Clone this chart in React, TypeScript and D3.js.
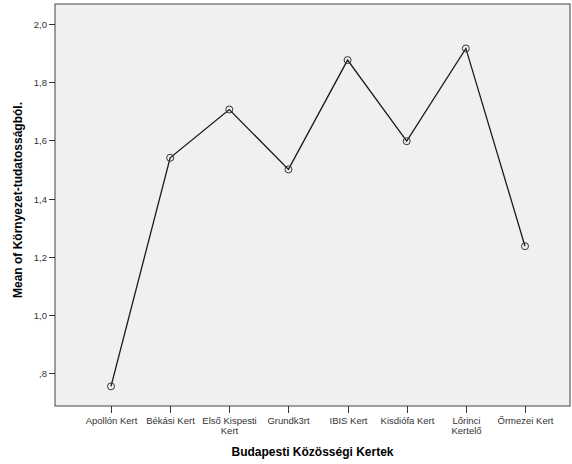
import React from "react";
import * as d3 from "d3";

const categories: string[][] = [
  ["Apollón Kert"],
  ["Békási Kert"],
  ["Első Kispesti", "Kert"],
  ["Grundk3rt"],
  ["IBIS Kert"],
  ["Kisdiófa Kert"],
  ["Lőrinci", "Kertelő"],
  ["Őrmezei Kert"],
];
const means: number[] = [0.754, 1.54, 1.706, 1.5, 1.876, 1.597, 1.916, 1.236];
const yTicks: number[] = [0.8, 1.0, 1.2, 1.4, 1.6, 1.8, 2.0];
const xTitle = "Budapesti Közösségi Kertek";
const yTitle = "Mean of Környezet-tudatosságból.";

const W = 572;
const H = 464;
const plot = { left: 55, top: 4, right: 570, bottom: 406 };

export default function App() {
  const keys = categories.map((c) => c.join(" "));
  const x = d3.scalePoint<string>().domain(keys).range([111, 525]);
  const y = d3.scaleLinear().domain([0.6865, 2.0688]).range([plot.bottom, plot.top]);
  const fmt = (v: number) => d3.format(".1f")(v).replace(".", ",").replace(/^0/, "");
  const line = d3
    .line<number>()
    .x((_, i) => x(keys[i]) as number)
    .y((d) => y(d));
  const font = "'Liberation Sans', Arial, sans-serif";
  return (
    <div style={{ position: "absolute", left: 0, top: 0 }}>
      <svg width={W} height={H} style={{ display: "block", fontFamily: font }}>
        <rect x={0} y={0} width={W} height={H} fill="#ffffff" />
        <rect
          x={plot.left}
          y={plot.top}
          width={plot.right - plot.left}
          height={plot.bottom - plot.top}
          fill="#f0f0f0"
          stroke="#444"
          strokeWidth={1}
        />
        {yTicks.map((t) => (
          <g key={t} transform={`translate(0,${Math.round(y(t)) + 0.5})`}>
            <line x1={plot.left - 6} x2={plot.left} stroke="#333" />
            <text x={plot.left - 8} dy="0.33em" textAnchor="end" fontSize={9.5} fill="#333">
              {fmt(t)}
            </text>
          </g>
        ))}
        {categories.map((c, i) => {
          const cx = Math.round(x(keys[i]) as number) + 0.5;
          return (
            <g key={keys[i]} transform={`translate(${cx},0)`}>
              <line y1={plot.bottom} y2={plot.bottom + 7} stroke="#333" />
              {c.map((s, j) => (
                <text key={j} y={plot.bottom + 18 + j * 9.5} textAnchor="middle" fontSize={9.5} fill="#333">
                  {s}
                </text>
              ))}
            </g>
          );
        })}
        <path d={line(means) || ""} fill="none" stroke="#1a1a1a" strokeWidth={1.3} />
        {means.map((m, i) => (
          <circle
            key={i}
            cx={x(keys[i]) as number}
            cy={y(m)}
            r={3.5}
            fill="none"
            stroke="#333"
            strokeWidth={1}
          />
        ))}
        <text
          x={(plot.left + plot.right) / 2}
          y={456}
          textAnchor="middle"
          fontSize={12}
          fontWeight="bold"
          fill="#000"
        >
          {xTitle}
        </text>
        <text
          transform={`translate(22,200) rotate(-90)`}
          textAnchor="middle"
          fontSize={12}
          fontWeight="bold"
          fill="#000"
        >
          {yTitle}
        </text>
      </svg>
    </div>
  );
}
